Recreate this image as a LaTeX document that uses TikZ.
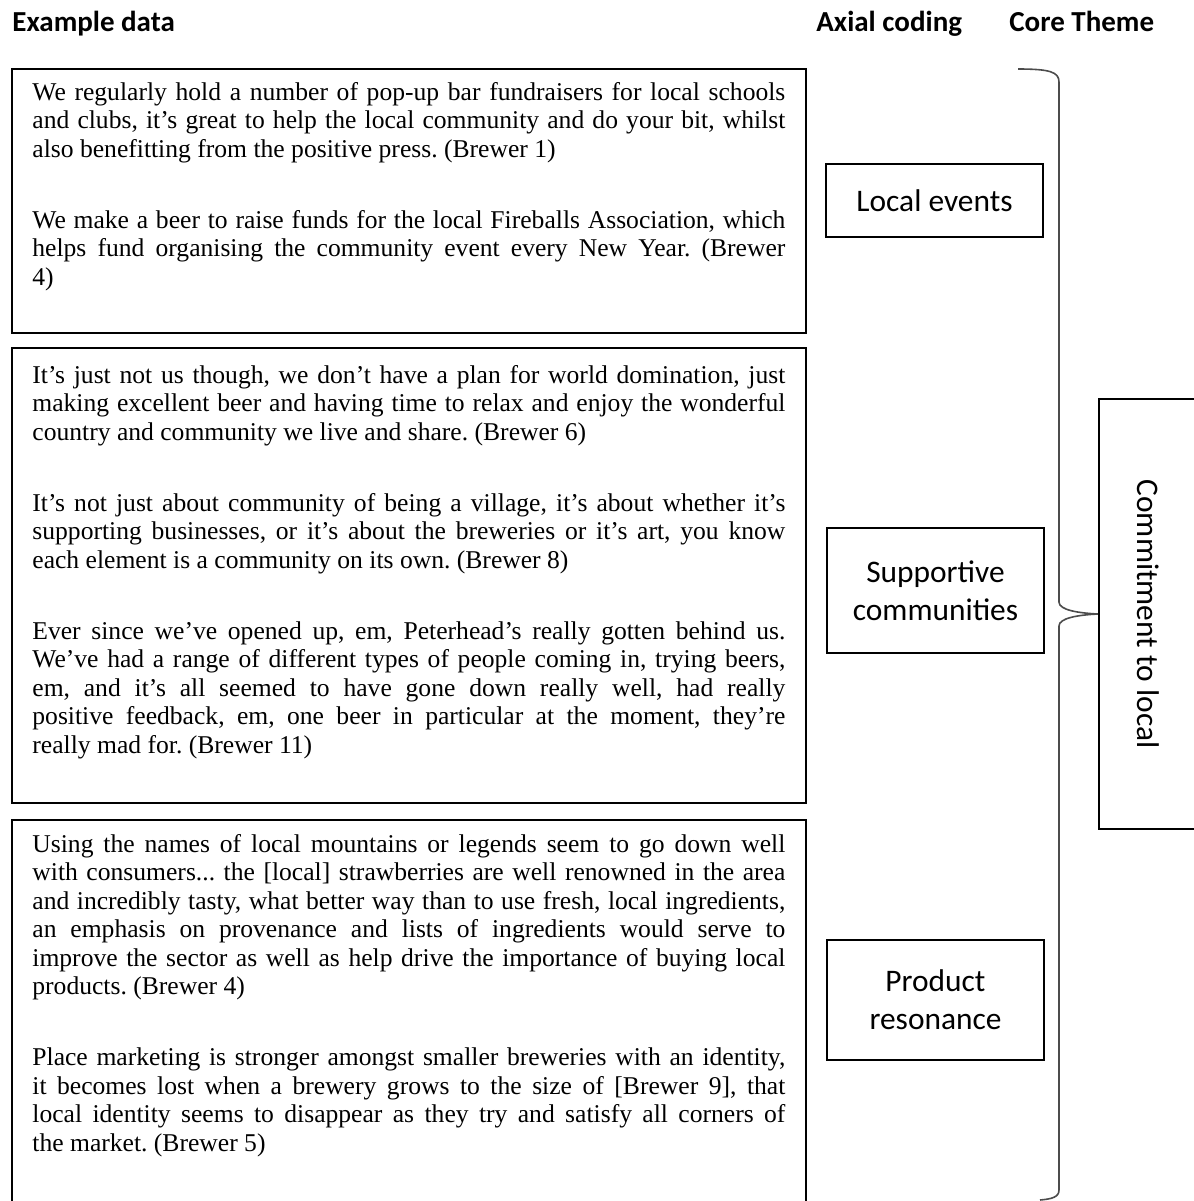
\documentclass[tikz,border=0pt]{standalone}
\usepackage{fontspec}
\setmainfont{Liberation Serif}
\newfontfamily\calibri{Carlito}
\usetikzlibrary{positioning}
\setlength{\parindent}{0pt}
\frenchspacing

\tikzset{
  framebox/.style={draw=black,line width=1.2pt},
  quotetext/.style={anchor=north west,inner sep=0pt,text width=376.5pt,align=justify,
    font=\fontsize{12.8}{14.25}\selectfont},
  headtext/.style={anchor=base west,inner sep=0pt,font=\calibri\bfseries\fontsize{14.5}{16}\selectfont},
  axial/.style={draw=black,line width=1.2pt,minimum width=108.5pt,inner sep=0pt,align=center,
    font=\calibri\fontsize{15.7}{19}\selectfont},
  corebox/.style={draw=black,line width=1.2pt,minimum width=49.5pt,minimum height=215pt,inner sep=0pt,
    font=\calibri\fontsize{15.7}{19}\selectfont},
  bracket/.style={draw=black!70,line width=0.8pt}
}
\newcommand{\pgap}{\par\vspace{21.25pt}}

\begin{document}
\begin{tikzpicture}[x=0.5pt,y=-0.5pt]
  \useasboundingbox (0,0) rectangle (1194,1201);
  \clip (0,0) rectangle (1194,1201);

  % column heads
  \node[headtext] (hdata) at (12,31) {Example data};
  \node[headtext] (haxial) at (816,31) {Axial coding};
  \node[headtext] (hcore) at (1009,31) {Core Theme};

  % example data
  \draw[framebox] (12,69) rectangle (806,333);
  \node[quotetext] (q1) at (32,80) {\strut We regularly hold a number of pop-up bar fundraisers for local schools\linebreak
    and clubs, it’s great to help the local community and do your bit, whilst\linebreak
    also benefitting from the positive press. (Brewer 1)\pgap
    We make a beer to raise funds for the local Fireballs Association, which\linebreak
    helps fund organising the community event every New Year. (Brewer\linebreak
    4)};

  \draw[framebox] (12,348) rectangle (806,803);
  \node[quotetext] (q2) at (32,363) {\strut It’s just not us though, we don’t have a plan for world domination, just\linebreak
    making excellent beer and having time to relax and enjoy the wonderful\linebreak
    country and community we live and share. (Brewer 6)\pgap
    It’s not just about community of being a village, it’s about whether it’s\linebreak
    supporting businesses, or it’s about the breweries or it’s art, you know\linebreak
    each element is a community on its own. (Brewer 8)\pgap
    Ever since we’ve opened up, em, Peterhead’s really gotten behind us.\linebreak
    We’ve had a range of different types of people coming in, trying beers,\linebreak
    em, and it’s all seemed to have gone down really well, had really\linebreak
    positive feedback, em, one beer in particular at the moment, they’re\linebreak
    really mad for. (Brewer 11)};

  \draw[framebox] (12,820) rectangle (806,1215);
  \node[quotetext] (q3) at (32,832) {\strut Using the names of local mountains or legends seem to go down well\linebreak
    with consumers... the [local] strawberries are well renowned in the area\linebreak
    and incredibly tasty, what better way than to use fresh, local ingredients,\linebreak
    an emphasis on provenance and lists of ingredients would serve to\linebreak
    improve the sector as well as help drive the importance of buying local\linebreak
    products. (Brewer 4)\pgap
    Place marketing is stronger amongst smaller breweries with an identity,\linebreak
    it becomes lost when a brewery grows to the size of [Brewer 9], that\linebreak
    local identity seems to disappear as they try and satisfy all corners of\linebreak
    the market. (Brewer 5)};

  % axial codes
  \node[axial,minimum height=36.5pt] (local) at (934.5,200.5) {Local events};
  \node[axial,minimum height=62.5pt] (support) at (935.5,590.5) {Supportive\\communities};
  \node[axial,minimum height=60pt] (product) at (935.5,1000) {Product\\resonance};

  % core theme
  \node[corebox] (core) at (1148.5,614) {\rotatebox{-90}{Commitment to local}};
  \coordinate (btop) at (1018,69);
  \coordinate (bbot) at (1040,1200);
  \draw[bracket] (btop) .. controls (1050,69) and (1059,72) .. (1059,82) -- (1059,602)
    .. controls (1059,610) and (1078,613) .. (core.west)
    .. controls (1078,615) and (1059,618) .. (1059,626) -- (1059,1190)
    .. controls (1059,1197) and (1052,1199) .. (bbot);
\end{tikzpicture}
\end{document}
